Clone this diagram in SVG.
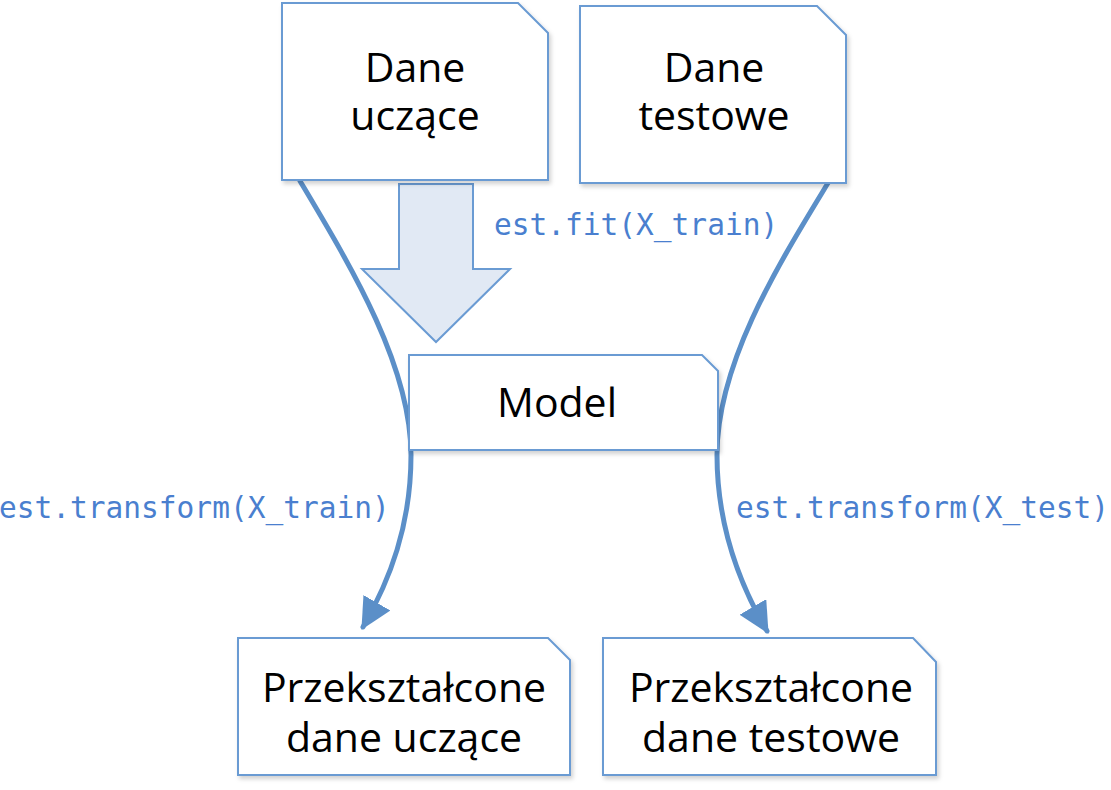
<svg xmlns="http://www.w3.org/2000/svg" width="1111" height="790" viewBox="0 0 1111 790">
  <style>
    .box { fill: #ffffff; stroke: #6a9bd3; stroke-width: 2; filter: url(#sh); }
    .lbl { font-family: "Open Sans", "Noto Sans", sans-serif; font-size: 41px; fill: #000; text-anchor: middle; }
    .code { font-family: "DejaVu Sans Mono", "Liberation Mono", monospace; font-size: 29.5px; fill: #4a7fcf; }
    .curve { fill: none; stroke: #5b8fc8; stroke-width: 5; stroke-linecap: round; }
  </style>
  <defs>
    <filter id="sh" x="-10%" y="-10%" width="130%" height="130%">
      <feDropShadow dx="2" dy="3" stdDeviation="2" flood-color="#000" flood-opacity="0.18"/>
    </filter>
    <marker id="ah" viewBox="0 0 10 10" refX="9" refY="5" markerUnits="userSpaceOnUse" markerWidth="31" markerHeight="31" orient="auto">
      <path d="M0,0 L10,5 L0,10 z" fill="#5b8fc8"/>
    </marker>
  </defs>
  <rect width="1111" height="790" fill="#ffffff"/>

  <g id="fit-arrow">
    <polygon points="399,184 473,184 473,269 510,269 436,342 362,269 399,269" fill="#e1e9f4" stroke="#6a9bd3" stroke-width="2"/>
  </g>

  <g id="connectors">
    <path class="curve" d="M300,181 C350,265 411,365 411,455 C411,525 390,580 363,627" marker-end="url(#ah)"/>
    <path class="curve" d="M828,183 C780,262 717,362 717,455 C717,525 740,585 767,631" marker-end="url(#ah)"/>
  </g>

  <g id="dane-uczace">
    <polygon class="box" points="282,3 518,3 548,33 548,180 282,180"/>
    <text class="lbl" x="415" y="82">Dane<tspan x="415" dy="48">uczące</tspan></text>
  </g>

  <g id="dane-testowe">
    <polygon class="box" points="580,6 817,6 846,35 846,183 580,183"/>
    <text class="lbl" x="714" y="82">Dane<tspan x="714" dy="48">testowe</tspan></text>
  </g>

  <g id="model">
    <polygon class="box" points="409,355 702,355 718,371 718,450 409,450"/>
    <text class="lbl" x="557" y="417">Model</text>
  </g>

  <g id="przeksztalcone-uczace">
    <polygon class="box" points="238,638 548,638 570,660 570,775 238,775"/>
    <text class="lbl" x="404" y="702">Przekształcone<tspan x="404" dy="50">dane uczące</tspan></text>
  </g>

  <g id="przeksztalcone-testowe">
    <polygon class="box" points="603,638 913,638 936,662 936,775 603,775"/>
    <text class="lbl" x="771" y="702">Przekształcone<tspan x="771" dy="50">dane testowe</tspan></text>
  </g>

  <g id="labels">
    <text class="code" x="494" y="235">est.fit(X_train)</text>
    <text class="code" x="-1" y="518">est.transform(X_train)</text>
    <text class="code" x="736" y="518">est.transform(X_test)</text>
  </g>
</svg>
